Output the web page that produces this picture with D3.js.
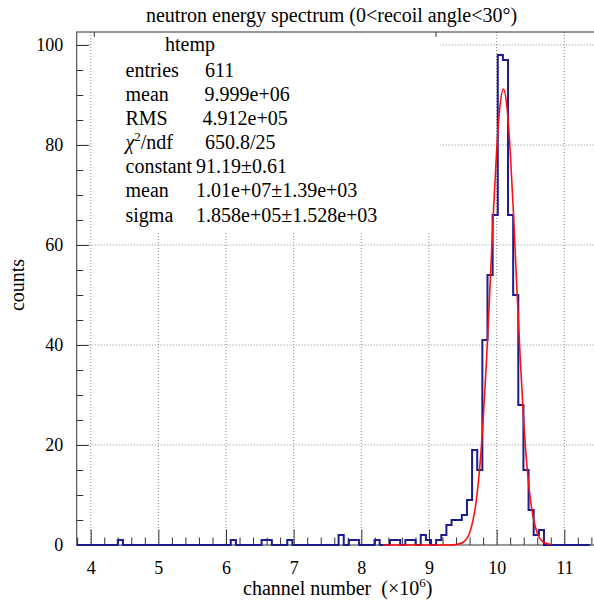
<!DOCTYPE html>
<html>
<head>
<meta charset="utf-8">
<script src="https://cdn.jsdelivr.net/npm/d3@7"></script>
<style>
body { margin: 0; background: #fff; }
text { font-family: "Liberation Serif", "Times New Roman", serif; fill: #000; }
</style>
</head>
<body>
<svg></svg>
<script>
// histogram htemp: 100 bins, only the filled ones are listed
const nBins = 100
const histMin = 3.7935
const binWidth = 0.07589
const binIndex = [8, 30, 36, 37, 41, 51, 53, 54, 58, 61, 62, 64, 65, 67, 68, 70, 71, 72, 73, 74,
    75, 76, 77, 78, 79, 80, 81, 82, 83, 84, 85, 86, 87, 88, 89, 90]
const binCount = [1, 1, 1, 1, 1, 2, 1, 1, 1, 1, 1, 1, 1, 2, 1, 1, 2, 4, 5, 5,
    6, 9, 19, 15, 41, 54, 66, 98, 97, 66, 50, 28, 15, 7, 2, 3]

// red gaussian fit
const fitX = [8.32, 9.2, 9.3, 9.4, 9.5, 9.6, 9.65, 9.7, 9.75, 9.8, 9.85, 9.9, 9.95, 10.0, 10.05,
    10.1, 10.15, 10.2, 10.25, 10.3, 10.35, 10.4, 10.45, 10.5, 10.55, 10.6, 10.7, 10.8]
const fitY = [0, 0, 0, 0.1, 0.5, 2.4, 4.9, 9.0, 15.5, 24.8, 36.9, 51.1, 65.9, 78.9, 87.9,
    91.2, 87.9, 78.9, 65.9, 51.1, 36.9, 24.8, 15.5, 9.0, 4.9, 2.4, 0.5, 0.1]

const xTicks = [4, 5, 6, 7, 8, 9, 10, 11]
const yTicks = [0, 20, 40, 60, 80, 100]

const statLabels = ["entries", "mean", "RMS", "chi2/ndf", "constant", "mean", "sigma"]
const statValues = ["611", "9.999e+06", "4.912e+05", "650.8/25", "91.19\u00b10.61",
    "1.01e+07\u00b11.39e+03", "1.858e+05\u00b11.528e+03"]

const width = 594
const height = 614
const svg = d3.select('svg')
    .attr("width", width)
    .attr("height", height)

const x = d3.scaleLinear().domain([4, 11]).range([90.7, 564.3])
const y = d3.scaleLinear().domain([0, 100]).range([545, 45])

const frameLeft = x(histMin)
const frameRight = 597
const frameTop = y(102.6)
const frameBottom = y(0)

// grid
const grid = svg.append('g')
    .attr('stroke', '#8a8a8a')
    .attr('stroke-dasharray', '1,2')
grid.selectAll('.gx').data(xTicks).enter().append('line')
    .attr('x1', d => x(d)).attr('x2', d => x(d))
    .attr('y1', frameTop).attr('y2', frameBottom)
grid.selectAll('.gy').data(yTicks.slice(1)).enter().append('line')
    .attr('x1', frameLeft).attr('x2', frameRight)
    .attr('y1', d => y(d)).attr('y2', d => y(d))

// stats box hides the grid behind it
svg.append('rect')
    .attr('x', 92).attr('y', frameTop + 0.5)
    .attr('width', 348.5).attr('height', 231 - frameTop)
    .attr('fill', '#fff')
svg.append('g').attr('stroke', '#333')
    .selectAll('line').data([94.3, 436]).enter().append('line')
    .attr('x1', d => d).attr('x2', d => d)
    .attr('y1', frameTop).attr('y2', frameTop + 5)

// axes, ticks drawn inward like ROOT
const xMinor = d3.range(19, 58).map(i => i / 5).filter(d => !Number.isInteger(d))
const yMinor = d3.range(1, 20).map(i => i * 5).filter(d => d % 20 !== 0)

function styleAxis(g) {
    g.select('.domain').remove()
    g.attr('color', '#333')
        .attr('font-family', '"Liberation Serif", "Times New Roman", serif')
        .attr('font-size', 18)
    g.selectAll('text').attr('fill', '#000')
}

svg.append('g').attr('transform', `translate(0,${frameBottom})`)
    .call(d3.axisBottom(x).tickValues(xMinor).tickSize(-7.5).tickFormat(''))
    .call(styleAxis)
svg.append('g').attr('transform', `translate(0,${frameBottom})`)
    .call(d3.axisBottom(x).tickValues(xTicks).tickSize(-15.5).tickPadding(16.5).tickFormat(d3.format('d')))
    .call(styleAxis)
svg.append('g').attr('transform', `translate(${frameLeft},0)`)
    .call(d3.axisLeft(y).tickValues(yMinor).tickSize(-6.5).tickFormat(''))
    .call(styleAxis)
svg.append('g').attr('transform', `translate(${frameLeft},0)`)
    .call(d3.axisLeft(y).tickValues(yTicks).tickSize(-12).tickPadding(13.5).tickFormat(d3.format('d')))
    .call(styleAxis)

// frame
svg.append('rect')
    .attr('x', frameLeft).attr('y', frameTop)
    .attr('width', frameRight - frameLeft).attr('height', frameBottom - frameTop)
    .attr('fill', 'none').attr('stroke', '#333').attr('stroke-width', 1)

// histogram outline
const counts = new Array(nBins).fill(0)
binIndex.forEach((k, i) => { counts[k] = binCount[i] })
const steps = counts.map((c, k) => ({ v: histMin + k * binWidth, c: c }))
steps.push({ v: histMin + nBins * binWidth, c: counts[nBins - 1] })

svg.append('path')
    .datum(steps)
    .attr('fill', 'none')
    .attr('stroke', '#1c1c8e')
    .attr('stroke-width', 2)
    .attr('d', d3.line().x(d => x(d.v)).y(d => y(d.c)).curve(d3.curveStepAfter))

// fit
svg.append('path')
    .datum(fitX.map((v, i) => [v, fitY[i]]))
    .attr('fill', 'none')
    .attr('stroke', '#ff1010')
    .attr('stroke-width', 1.6)
    .attr('d', d3.line().x(d => x(d[0])).y(d => y(d[1])).curve(d3.curveMonotoneX))

// title
svg.append('text')
    .attr('x', 331.5).attr('y', 22)
    .attr('text-anchor', 'middle')
    .attr('font-size', 20)
    .text('neutron energy spectrum (0<recoil angle<30\u00b0)')

// axis titles
const xt = svg.append('text')
    .attr('x', 243).attr('y', 594.5)
    .attr('font-size', 20)
    .style('white-space', 'pre')
xt.append('tspan').text('channel number  (\u00d710')
xt.append('tspan').attr('font-size', 13).attr('dy', -8).text('6')
xt.append('tspan').attr('dy', 8).text(')')

svg.append('text')
    .attr('transform', 'translate(24,285) rotate(-90)')
    .attr('text-anchor', 'middle')
    .attr('font-size', 20)
    .text('counts')

// stats
svg.append('text')
    .attr('x', 190).attr('y', 51)
    .attr('text-anchor', 'middle')
    .attr('font-size', 20)
    .text('htemp')

const valueX = [205, 204.5, 202.5, 205, 196, 196, 196]
statLabels.forEach((lab, i) => {
    const yy = 76.7 + i * 24.15
    const t = svg.append('text').attr('x', 125.5).attr('y', yy).attr('font-size', 20)
    if (lab === 'chi2/ndf') {
        t.append('tspan').attr('font-style', 'italic').text('\u03c7')
        t.append('tspan').attr('font-size', 13).attr('dy', -8).text('2')
        t.append('tspan').attr('dy', 8).text('/ndf')
    } else {
        t.text(lab)
    }
    svg.append('text').attr('x', valueX[i]).attr('y', yy).attr('font-size', 20).text(statValues[i])
})
</script>
</body>
</html>
